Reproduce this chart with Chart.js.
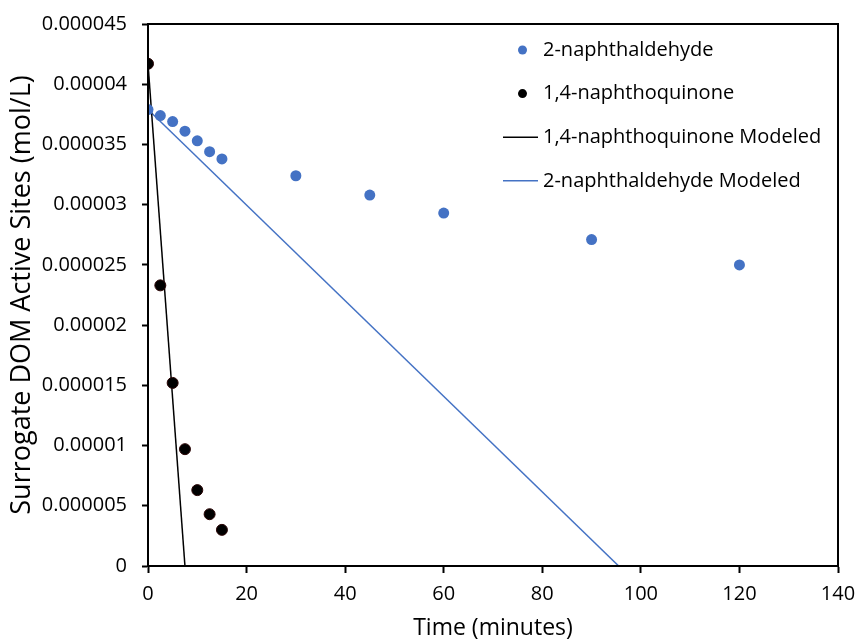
<!DOCTYPE html>
<html>
<head>
<meta charset="utf-8">
<title>Surrogate DOM Active Sites</title>
<script src="https://cdn.jsdelivr.net/npm/chart.js@4/dist/chart.umd.min.js"></script>
<style>
  html, body { margin: 0; padding: 0; background: #fff; }
  #wrap { width: 856px; height: 641px; position: relative; }
</style>
</head>
<body>
<div id="wrap"><canvas id="decayChart"></canvas></div>
<script>
// sampling times (minutes)
const timesAld = [0, 2.5, 5, 7.5, 10, 12.5, 15, 30, 45, 60, 90, 120];
const timesQuin = [0, 2.5, 5, 7.5, 10, 12.5, 15];

// measured active sites (mol/L)
const aldehydeSites = [3.79e-5, 3.74e-5, 3.69e-5, 3.61e-5, 3.53e-5, 3.44e-5, 3.38e-5, 3.24e-5, 3.08e-5, 2.93e-5, 2.71e-5, 2.50e-5];
const quinoneSites  = [4.17e-5, 2.33e-5, 1.52e-5, 0.97e-5, 0.63e-5, 0.43e-5, 0.30e-5];

// modeled lines, start and end
const quinoneModelT = [0, 7.5];
const quinoneModelY = [4.17e-5, 0];
const aldehydeModelT = [0, 95.5];
const aldehydeModelY = [3.79e-5, 0];

const xTicks = { min: 0, max: 140, step: 20 };
const yTicks = { min: 0, max: 0.000045, step: 0.000005 };

const BLUE = '#4472C4';
const FONT = '"Open Sans", Lato, sans-serif';

const pts = (xs, ys) => xs.map((x, i) => ({ x: x, y: ys[i] }));

// frame around the plot + legend inside the plot area
const frameAndLegend = {
    id: 'frameAndLegend',
    afterDraw(chart) {
        const { ctx, chartArea: a } = chart;
        ctx.save();
        ctx.strokeStyle = '#000';
        ctx.lineWidth = 2;
        ctx.strokeRect(a.left, a.top, a.right - a.left, a.bottom - a.top);

        const x0 = 503, x1 = 538, textX = 543;
        let y = 50;
        ctx.font = '20px ' + FONT;
        ctx.textBaseline = 'middle';
        ctx.textAlign = 'left';
        chart.data.datasets.forEach(ds => {
            if (ds.showLine) {
                ctx.strokeStyle = ds.borderColor;
                ctx.lineWidth = ds.borderWidth;
                ctx.beginPath();
                ctx.moveTo(x0, y);
                ctx.lineTo(x1, y);
                ctx.stroke();
            } else {
                ctx.fillStyle = ds.backgroundColor;
                ctx.beginPath();
                ctx.arc((x0 + x1) / 2 + 2, y, 4.5, 0, Math.PI * 2);
                ctx.fill();
            }
            ctx.fillStyle = '#000';
            ctx.fillText(ds.label, textX, y);
            y += 43.6;
        });
        ctx.restore();
    }
};

const fmt = v => Number(v.toFixed(6)).toString();

// keep edge tick labels from shrinking the plot area
const noEdgePad = s => { s.paddingLeft = 0; s.paddingRight = 0; s.paddingTop = 0; s.paddingBottom = 0; };

new Chart(document.getElementById('decayChart'), {
    type: 'scatter',
    data: {
        datasets: [
            { label: '2-naphthaldehyde', data: pts(timesAld, aldehydeSites), backgroundColor: BLUE, borderColor: BLUE, pointRadius: 5.5, borderWidth: 0 },
            { label: '1,4-naphthoquinone', data: pts(timesQuin, quinoneSites), backgroundColor: '#000', borderColor: '#2a0505', pointRadius: 5.5, borderWidth: 1 },
            { label: '1,4-naphthoquinone Modeled', data: pts(quinoneModelT, quinoneModelY), showLine: true, borderColor: '#000', backgroundColor: '#000', borderWidth: 1.5, pointRadius: 0 },
            { label: '2-naphthaldehyde Modeled', data: pts(aldehydeModelT, aldehydeModelY), showLine: true, borderColor: BLUE, backgroundColor: BLUE, borderWidth: 1.5, pointRadius: 0 }
        ]
    },
    options: {
        responsive: true,
        maintainAspectRatio: false,
        animation: false,
        layout: { padding: { top: 24, right: 18, bottom: 0, left: 0 } },
        plugins: {
            legend: { display: false },
            tooltip: { enabled: false }
        },
        scales: {
            x: {
                type: 'linear',
                min: xTicks.min, max: xTicks.max,
                afterFit: s => { s.height = 75; noEdgePad(s); },
                ticks: { stepSize: xTicks.step, color: '#000', font: { family: FONT, size: 20 }, padding: 9 },
                grid: { drawOnChartArea: false, tickLength: 7, tickWidth: 2, tickColor: '#000' },
                border: { color: '#000', width: 2 },
                title: { display: true, text: 'Time (minutes)', color: '#000', font: { family: FONT, size: 23, lineHeight: 1.05 }, padding: { top: 0, bottom: 0 } }
            },
            y: {
                min: yTicks.min, max: yTicks.max,
                afterFit: s => { s.width = 148; noEdgePad(s); },
                ticks: { stepSize: yTicks.step, color: '#000', font: { family: FONT, size: 20 }, padding: 15, callback: fmt },
                grid: { drawOnChartArea: false, tickLength: 6, tickWidth: 2, tickColor: '#000' },
                border: { color: '#000', width: 2 },
                title: { display: true, text: 'Surrogate DOM Active Sites (mol/L)', color: '#000', font: { family: FONT, size: 27, lineHeight: 1.0 }, padding: { top: 8.5, bottom: 0 } }
            }
        }
    },
    plugins: [frameAndLegend]
});
</script>
</body>
</html>
